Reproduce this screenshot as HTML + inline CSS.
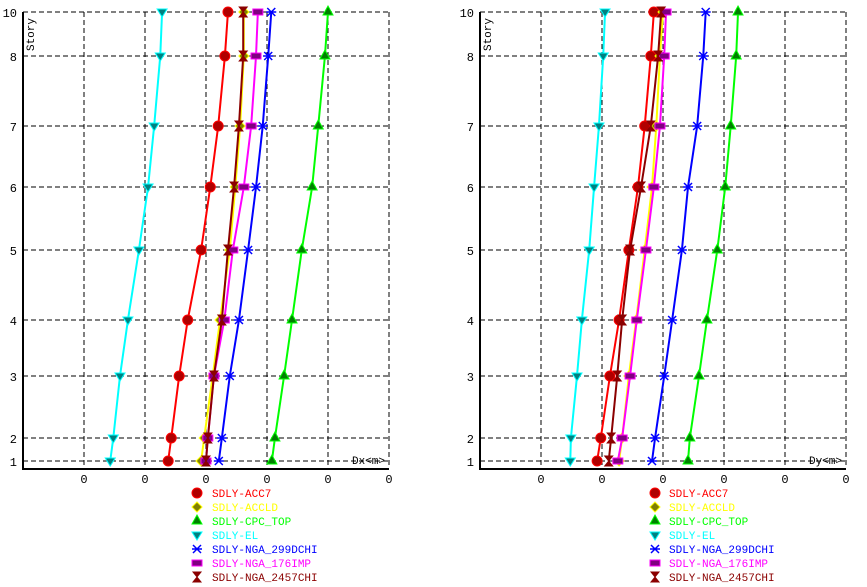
<!DOCTYPE html>
<html><head><meta charset="utf-8"><style>
body{margin:0;background:#fff;width:867px;height:587px;overflow:hidden}
svg{display:block;font-family:"Liberation Mono",monospace}
</style></head><body>
<svg id="s" width="867" height="587"></svg>
<script>
const stories=[1,2,3,4,5,6,7,8,10];
const elev=[7,30,92,148,218,281,342,412,456];
const xTicks=["0","0","0","0","0","0"];
const names=["SDLY-ACC7","SDLY-ACCLD","SDLY-CPC_TOP","SDLY-EL","SDLY-NGA_299DCHI","SDLY-NGA_176IMP","SDLY-NGA_2457CHI"];
const colors=["#ff0000","#ffff00","#00ff00","#00ffff","#0000ff","#ff00ff","#8b0000"];
const dxACC7=[2.38,2.43,2.56,2.70,2.92,3.07,3.20,3.31,3.36];
const dxACCLD=[2.92,2.97,3.11,3.23,3.39,3.48,3.56,3.62,3.62];
const dxCPC=[4.08,4.13,4.28,4.41,4.57,4.74,4.84,4.95,5.00];
const dxEL=[1.43,1.48,1.59,1.72,1.90,2.05,2.15,2.25,2.28];
const dx299=[3.21,3.26,3.39,3.54,3.69,3.82,3.93,4.02,4.07];
const dx176=[3.00,3.03,3.13,3.30,3.44,3.62,3.74,3.82,3.85];
const dx2457=[3.00,3.03,3.13,3.26,3.36,3.46,3.54,3.61,3.61];
const dyACC7=[1.92,1.98,2.13,2.28,2.44,2.59,2.70,2.80,2.85];
const dyACCLD=[2.28,2.33,2.44,2.56,2.70,2.82,2.89,2.95,3.00];
const dyCPC=[3.41,3.44,3.59,3.72,3.89,4.02,4.11,4.20,4.23];
const dyEL=[1.48,1.49,1.59,1.67,1.79,1.87,1.95,2.02,2.05];
const dy299=[2.82,2.87,3.02,3.15,3.31,3.41,3.56,3.66,3.70];
const dy176=[2.26,2.33,2.46,2.57,2.72,2.85,2.95,3.02,3.05];
const dy2457=[2.11,2.15,2.25,2.33,2.46,2.64,2.80,2.92,2.97];
const NS="http://www.w3.org/2000/svg";
const svg=document.getElementById('s');
function mk(t,a,p){const e=document.createElementNS(NS,t);for(const k in a)e.setAttribute(k,a[k]);(p||svg).appendChild(e);return e;}
function marker(g,i,x,y){
  const c=colors[i];let e;
  if(i==0)e=mk('circle',{cx:x,cy:y,r:5,fill:'#b00000',stroke:'#ff0000'},g);
  else if(i==1)e=mk('polygon',{points:`${x},${y-5} ${x+5},${y} ${x},${y+5} ${x-5},${y}`,fill:'#808000',stroke:'#ffff00'},g);
  else if(i==2)e=mk('polygon',{points:`${x},${y-6} ${x+5},${y+3} ${x-5},${y+3}`,fill:'#008000',stroke:'#00ff00'},g);
  else if(i==3)e=mk('polygon',{points:`${x-5},${y-3} ${x+5},${y-3} ${x},${y+5}`,fill:'#008080',stroke:'#00ffff'},g);
  else if(i==4)e=mk('path',{d:`M${x-4},${y-4}L${x+4},${y+4}M${x+4},${y-4}L${x-4},${y+4}M${x-5},${y}H${x+5}`,stroke:c,'stroke-width':1.5,fill:'none'},g);
  else if(i==5)e=mk('rect',{x:x-5,y:y-3,width:10,height:6,fill:'#800080',stroke:'#ff00ff'},g);
  else e=mk('polygon',{points:`${x-4},${y-5} ${x+4},${y-5} ${x},${y} ${x+4},${y+5} ${x-4},${y+5} ${x},${y}`,fill:'#8b0000',stroke:'#8b0000'},g);
  return e;
}
function chart(ox,series,lbl,name){
  const g=mk('g',{});
  
  
  const X=v=>ox+v*61, Y=e=>468-e;
  for(let k=1;k<=6;k++){const l=mk('line',{x1:X(k),x2:X(k),y1:12,y2:468,stroke:'#000','stroke-dasharray':'5,3'},g);}
  stories.forEach((s,j)=>{const l=mk('line',{x1:ox,x2:X(6),y1:Y(elev[j]),y2:Y(elev[j]),stroke:'#000','stroke-dasharray':'5,3'},g);
    const t=mk('text',{x:ox-6,y:Y(elev[j])+5,'text-anchor':'end','font-size':12},g);t.textContent=s;});
  const ax=mk('path',{d:`M${ox},12V469H${X(6)}`,stroke:'#000','stroke-width':2,fill:'none'},g);
  
  xTicks.forEach((t,k)=>{const e=mk('text',{x:X(k+1),y:483,'text-anchor':'middle','font-size':12},g);e.textContent=t;});
  const yt=mk('text',{transform:`translate(${ox+11},${18}) rotate(-90)`,'text-anchor':'end','font-size':11},g);yt.textContent='Story';
  const xt=mk('text',{x:X(6)-4,y:464,'text-anchor':'end','font-size':11},g);xt.textContent=lbl;
  series.forEach((d,i)=>{
    const pts=d.map((v,j)=>X(v)+','+Y(elev[j])).join(' ');
    const pl=mk('polyline',{points:pts,fill:'none',stroke:colors[i],'stroke-width':2},g);
    
    d.forEach((v,j)=>{const m=marker(g,i,X(v),Y(elev[j]));});
    const ly=493+i*14;
    const lm=marker(g,i,X(0)+(ox<100?174:175),ly);
    const lt=mk('text',{x:X(0)+189,y:ly+4,'font-size':11,fill:colors[i]},g);lt.textContent=names[i];
    
  });
}
chart(23,[dxACC7,dxACCLD,dxCPC,dxEL,dx299,dx176,dx2457],'Dx<m>','dx-chart');
chart(480,[dyACC7,dyACCLD,dyCPC,dyEL,dy299,dy176,dy2457],'Dy<m>','dy-chart');
</script>
</body></html>
